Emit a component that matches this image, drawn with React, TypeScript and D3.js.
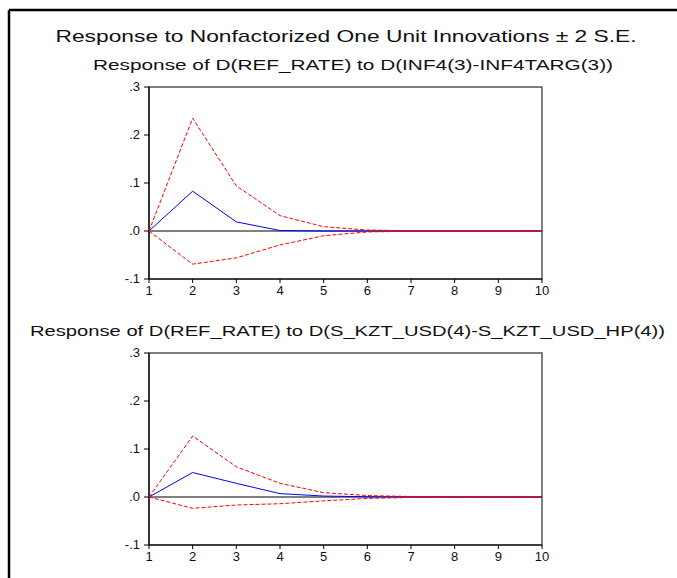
import React from "react";
import * as d3 from "d3";

const periods = [1, 2, 3, 4, 5, 6, 7, 8, 9, 10];
const yTicks = [-0.1, 0.0, 0.1, 0.2, 0.3];

const mainTitle = "Response to Nonfactorized One Unit Innovations \u00B1 2 S.E.";
const title1 = "Response of D(REF_RATE) to D(INF4(3)-INF4TARG(3))";
const title2 = "Response of D(REF_RATE) to D(S_KZT_USD(4)-S_KZT_USD_HP(4))";

const resp1 = [0, 0.083, 0.019, 0.001, 0.0, 0.0, 0.0, 0.0, 0.0, 0.0];
const upper1 = [0, 0.235, 0.094, 0.032, 0.009, 0.002, 0.0005, 0.0001, 0.0, 0.0];
const lower1 = [0, -0.069, -0.056, -0.029, -0.0098, -0.002, -0.0005, -0.0001, 0.0, 0.0];

const resp2 = [0, 0.051, 0.0285, 0.007, 0.002, 0.0005, 0.0001, 0.0, 0.0, 0.0];
const upper2 = [0, 0.127, 0.063, 0.0285, 0.009, 0.003, 0.001, 0.0003, 0.0, 0.0];
const lower2 = [0, -0.0236, -0.0167, -0.014, -0.008, -0.003, -0.001, -0.0003, 0.0, 0.0];

const fmt = (v: number) => {
  if (Math.abs(v) < 1e-9) return ".0";
  const s = v.toFixed(1);
  return s.replace("0.", ".");
};

function Panel({ top, title, titleY, titleX0, titleX1, resp, upper, lower }: any) {
  const left = 149;
  const right = 542;
  const bottom = top + 192;
  const x = d3.scaleLinear().domain([1, 10]).range([left, right]);
  const y = d3.scaleLinear().domain([-0.1, 0.3]).range([bottom, top]);
  const line = d3
    .line<number>()
    .x((_, i) => x(periods[i]))
    .y((d) => y(d));
  return (
    <g>
      <text
        x={(titleX0 + titleX1) / 2}
        y={titleY}
        textAnchor="middle"
        fontFamily="Liberation Sans, Arial, sans-serif"
        fontSize={14}
        textLength={titleX1 - titleX0}
        lengthAdjust="spacingAndGlyphs"
        fill="#111"
      >
        {title}
      </text>
      <rect x={left} y={top} width={right - left} height={bottom - top} fill="none" stroke="#555" strokeWidth={1.5} />
      <line x1={left} x2={left} y1={top} y2={bottom} stroke="#000" strokeWidth={1.2} />
      <line x1={left} x2={right} y1={bottom} y2={bottom} stroke="#000" strokeWidth={1.2} />
      {yTicks.map((t) => (
        <g key={t}>
          <line x1={left - 5} x2={left} y1={y(t)} y2={y(t)} stroke="#000" strokeWidth={1} />
          <text
            x={left - 9}
            y={y(t) + 4}
            textAnchor="end"
            fontFamily="Liberation Sans, Arial, sans-serif"
            fontSize={13}
            fill="#111"
          >
            {fmt(t)}
          </text>
        </g>
      ))}
      {periods.map((p) => (
        <g key={p}>
          <line x1={x(p)} x2={x(p)} y1={bottom} y2={bottom + 4} stroke="#000" strokeWidth={1} />
          <text
            x={x(p)}
            y={bottom + 16}
            textAnchor="middle"
            fontFamily="Liberation Sans, Arial, sans-serif"
            fontSize={13}
            fill="#111"
          >
            {p}
          </text>
        </g>
      ))}
      <line x1={left} x2={right} y1={y(0)} y2={y(0)} stroke="#000" strokeWidth={1} />
      <path d={line(resp) || ""} fill="none" stroke="#0000ff" strokeWidth={1} />
      <path d={line(upper) || ""} fill="none" stroke="#ff0000" strokeWidth={1} strokeDasharray="4,2" />
      <path d={line(lower) || ""} fill="none" stroke="#ff0000" strokeWidth={1} strokeDasharray="4,2" />
    </g>
  );
}

export default function App() {
  return (
    <svg
      width={677}
      height={578}
      style={{ position: "absolute", left: 0, top: 0, background: "#fff" }}
    >
      <rect x={0} y={0} width={677} height={578} fill="#fff" />
      <line x1={9} x2={677} y1={10} y2={10} stroke="#000" strokeWidth={2.5} />
      <line x1={9} x2={9} y1={10} y2={578} stroke="#000" strokeWidth={2.5} />
      <text
        x={346}
        y={42}
        textAnchor="middle"
        fontFamily="Liberation Sans, Arial, sans-serif"
        fontSize={17}
        textLength={581}
        lengthAdjust="spacingAndGlyphs"
        fill="#111"
      >
        {mainTitle}
      </text>
      <Panel top={87} title={title1} titleY={70} titleX0={93} titleX1={613} resp={resp1} upper={upper1} lower={lower1} />
      <Panel top={353} title={title2} titleY={336} titleX0={30} titleX1={665} resp={resp2} upper={upper2} lower={lower2} />
    </svg>
  );
}
